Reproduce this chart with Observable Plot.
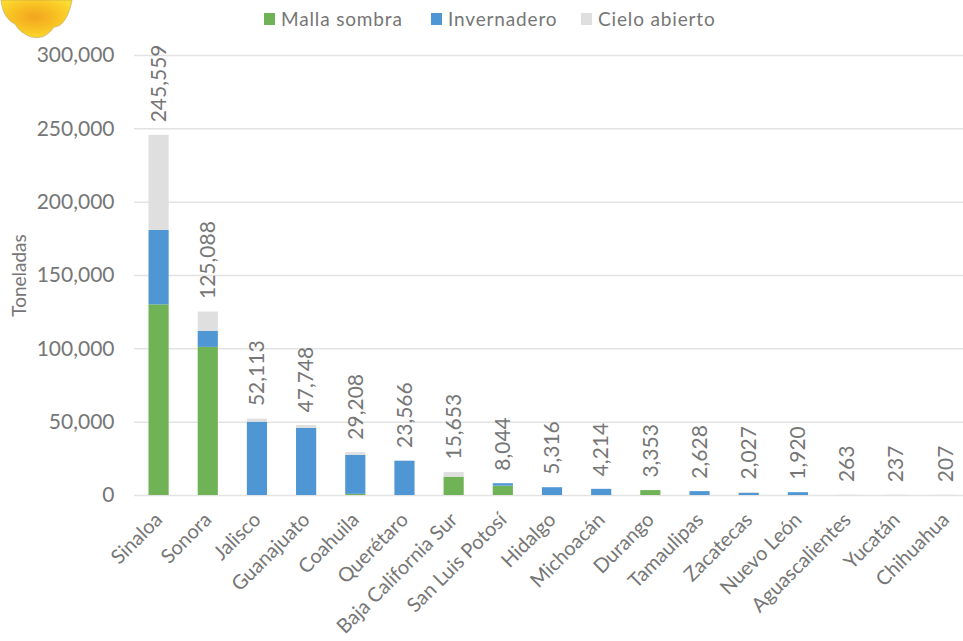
<!DOCTYPE html>
<html>
<head>
<meta charset="utf-8">
<script src="https://cdn.jsdelivr.net/npm/d3@7"></script>
<script src="https://cdn.jsdelivr.net/npm/@observablehq/plot@0.6"></script>
<style>
  html, body { margin: 0; padding: 0; background: #fff; }
  body { width: 963px; height: 641px; overflow: hidden; position: relative; font-family: Lato, sans-serif; }
  #legend { height: 36px; position: relative; color: #767676; font-size: 19px; letter-spacing: 0.85px; }
  #legend .item { position: absolute; top: 7px; line-height: 24px; white-space: nowrap; }
  #legend .sw { position: absolute; left: -17px; top: 6px; width: 11px; height: 12px; }
  #pepper { position: absolute; left: 0; top: 0; }
  svg text { font-family: Lato, sans-serif; }
</style>
</head>
<body>
<div id="legend"></div>
<div id="chart"></div>
<script>
const estados = ["Sinaloa","Sonora","Jalisco","Guanajuato","Coahuila","Querétaro","Baja California Sur","San Luis Potosí","Hidalgo","Michoacán","Durango","Tamaulipas","Zacatecas","Nuevo León","Aguascalientes","Yucatán","Chihuahua"];
const tipos = ["Malla sombra","Invernadero","Cielo abierto"];
const colores = ["#70b356","#4f96d4","#dfdfdf"];
const malla = [130000,101000,0,0,800,0,12500,6400,0,0,3353,0,0,0,0,0,0];
const invernadero = [50700,11000,50000,45700,26500,23400,0,1644,5316,4214,0,2628,1400,1920,0,0,0];
const cielo = [64859,13088,2113,2048,1908,166,3153,0,0,0,0,0,627,0,263,237,207];
const totales = [245559,125088,52113,47748,29208,23566,15653,8044,5316,4214,3353,2628,2027,1920,263,237,207];
const ticksY = [0,50000,100000,150000,200000,250000,300000];
const leyendaX = [281,448,598];

const series = [malla, invernadero, cielo];
const filas = tipos.flatMap((tipo, t) => estados.map((estado, i) => ({estado, tipo, valor: series[t][i]})));
const etiquetas = estados.map((estado, i) => ({estado, total: totales[i]}));

const legend = d3.select("#legend");
tipos.forEach((t, i) => {
  const it = legend.append("div").attr("class", "item").style("left", leyendaX[i] + "px").text(t);
  it.append("span").attr("class", "sw").style("background", colores[i]);
});

const fmt = d3.format(",");
const plot = Plot.plot({
  width: 963,
  height: 605,
  marginLeft: 134,
  marginRight: 0,
  marginTop: 19,
  marginBottom: 146,
  style: {background: "transparent", color: "#767676", overflow: "visible"},
  x: {domain: estados, range: [134, 970], paddingInner: 0.59, paddingOuter: 0.295, round: false, label: null},
  y: {domain: [0, 300000], label: null},
  color: {domain: tipos, range: colores},
  marks: [
    Plot.gridY(ticksY, {stroke: "#e3e3e3", strokeOpacity: 1, strokeWidth: 1.5}),
    Plot.barY(filas, {x: "estado", y: "valor", fill: "tipo", order: tipos}),
    Plot.axisY(ticksY, {tickSize: 0, tickPadding: 20, tickFormat: fmt, fontSize: 21, fill: "#767676", label: null, letterSpacing: "0.4px"}),
    Plot.axisX({tickSize: 0, tickPadding: 21, tickRotate: -45, fontSize: 20, fill: "#767676", label: null, letterSpacing: "1.7px"}),
    Plot.text(etiquetas, {x: "estado", y: "total", text: d => fmt(d.total), rotate: -90, textAnchor: "start", dy: -13, fontSize: 21, fill: "#767676", letterSpacing: "0.6px"}),
    Plot.text(["Toneladas"], {frameAnchor: "left", dx: -115, rotate: -90, textAnchor: "middle", fontSize: 19, fill: "#767676", letterSpacing: "0.9px"})
  ]
});
document.getElementById("chart").appendChild(plot);

// Decorative pepper cropped by the top-left corner
document.body.insertAdjacentHTML("beforeend", `
<svg id="pepper" width="75" height="42" viewBox="0 0 75 42">
  <defs>
    <radialGradient id="pg" cx="0.47" cy="0.45" r="0.6">
      <stop offset="0" stop-color="#f3a41f"/><stop offset="0.55" stop-color="#f8c223"/><stop offset="1" stop-color="#fcdc30"/>
    </radialGradient>
  </defs>
  <path d="M1 0 C2 10 6 20 15 24 C18 29 21 32 25 34 C30 38 40 39 46 35 C49 33 52 30 54 27 C64 27 70 12 72 0 Z" fill="url(#pg)" stroke="#b9a360" stroke-width="0.6"/>
</svg>`);
</script>
</body>
</html>
